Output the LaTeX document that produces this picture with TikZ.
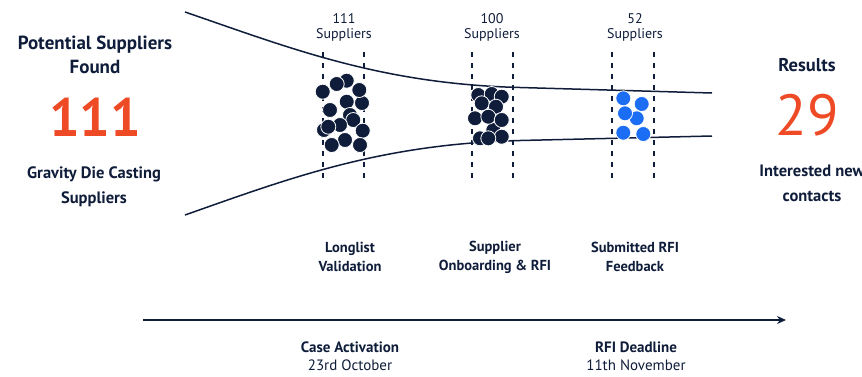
\documentclass[tikz,border=0pt]{standalone}
\usepackage{fontspec}
\setmainfont{PT Sans}
\usetikzlibrary{arrows.meta}
\definecolor{navy}{HTML}{0F1D3A}
\definecolor{accent}{HTML}{EE4A26}
\definecolor{brightblue}{HTML}{1B6EF3}
\tikzset{
  funnel/.style={navy, line width=1.5pt},
  gate/.style={navy, line width=1.4pt, dash pattern=on 5pt off 6pt},
  count/.style={text=navy, font=\fontsize{14}{15}\selectfont, align=center},
  stage/.style={text=navy, font=\bfseries\fontsize{14.5}{19}\selectfont, align=center},
  milestone/.style={text=navy, font=\fontsize{15}{18}\selectfont, align=center},
  dot/.style={circle, fill=navy, draw=white, line width=0.8pt, minimum size=15pt, inner sep=0pt},
  bluedot/.style={dot, fill=brightblue},
  heading/.style={text=navy, font=\bfseries\fontsize{19}{24}\selectfont, align=center},
  bignum/.style={text=accent, font=\bfseries\fontsize{54}{60}\selectfont},
  caption/.style={text=navy, font=\bfseries\fontsize{16.5}{25}\selectfont, align=center},
}
\begin{document}
\begin{tikzpicture}[x=1pt, y=-1pt]
\useasboundingbox (0,0) rectangle (862,376);

% funnel outline
\draw[funnel] (185,12) .. controls (290,48) and (380,84) .. (520,87.5) -- (712,93);
\draw[funnel] (185,215) .. controls (290,178) and (380,144) .. (520,140.5) -- (712,136);

% stage gates
\foreach \gx in {323,364,472,513,612,654}
  \draw[gate] (\gx,52) -- (\gx,183);

% supplier counts
\node[count] (c1) at (344,27) {111\\Suppliers};
\node[count] (c2) at (492,27) {100\\Suppliers};
\node[count] (c3) at (635,27) {52\\Suppliers};

% longlist cluster
\foreach \i/\px/\py in {1/324/130, 2/322.7/91.7, 3/362/103, 4/346.7/80.7, 5/336.7/84, 6/359.3/90,
  7/346.7/101.7, 8/330/110, 9/350/115, 10/353.3/120, 11/340/125, 12/328.3/126.7,
  13/362.7/130.7, 14/345/140, 15/331.7/145, 16/360/145}
  \node[dot] (a\i) at (\px,\py) {};

% onboarding cluster
\foreach \i/\px/\py in {1/478.3/95, 2/491.7/94, 3/481.7/103.3, 4/501.7/96.7, 5/496/106.7,
  6/493.3/130, 7/475/118.3, 8/488.3/116.7, 9/501.7/120, 10/480/138.3, 11/501.7/136.7, 12/488.3/138.3}
  \node[dot] (b\i) at (\px,\py) {};

% feedback cluster
\foreach \i/\px/\py in {1/623.3/98.3, 2/641.7/104, 3/636.7/118.3, 4/625/113.3, 5/623.3/132.7, 6/643.3/134}
  \node[bluedot] (f\i) at (\px,\py) {};

% left summary
\node[heading] (found) at (95,55) {Potential Suppliers\\Found};
\node[bignum] (n111) at (95,117) {111};
\node[caption] (kind) at (94,187) {Gravity Die Casting\\Suppliers};

% right summary
\node[heading, font=\bfseries\fontsize{18.5}{22}\selectfont] (res) at (807,65) {Results};
\node[bignum, font=\fontsize{58}{60}\selectfont] (n29) at (807,115) {29};
\node[caption] (interest) at (812,183) {Interested new\\contacts};

% stage names
\node[stage] (s1) at (350,257) {Longlist\\Validation};
\node[stage] (s2) at (495,257) {Supplier\\Onboarding \& RFI};
\node[stage] (s3) at (635,257) {Submitted RFI\\Feedback};

% timeline
\coordinate (tstart) at (143,320);
\coordinate (tend) at (786,320);
\draw[navy, line width=1.5pt, -{Stealth[length=9pt, width=8pt]}] (tstart) -- (tend);
\node[milestone] (m1) at (350,356) {\textbf{Case Activation}\\23rd October};
\node[milestone] (m2) at (636,356) {\textbf{RFI Deadline}\\11th November};
\end{tikzpicture}
\end{document}
